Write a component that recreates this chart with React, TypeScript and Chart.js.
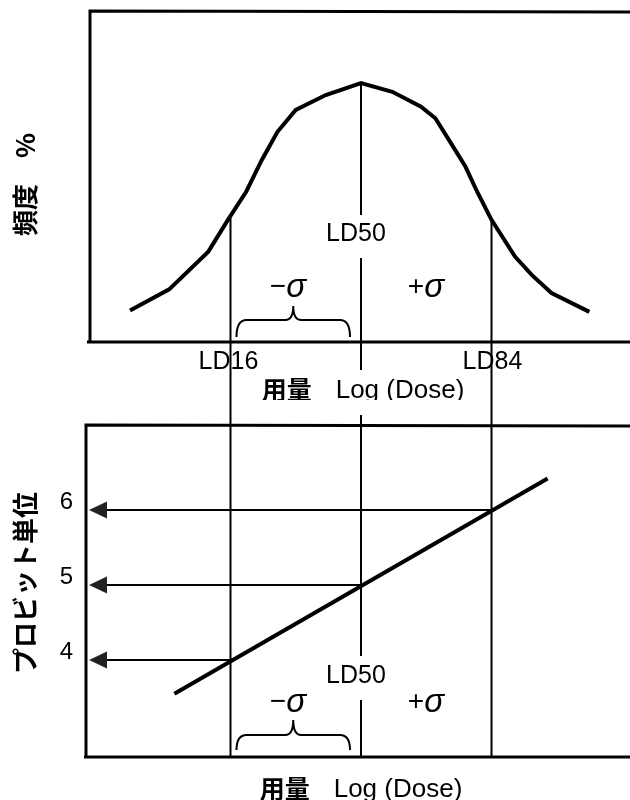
import React, { useEffect, useRef } from "react";
import { Chart, registerables } from "chart.js";

Chart.register(...registerables);

// Upper panel: frequency (%) against log dose, dose in σ units (0 = LD50)
const distDose = [-1.77, -1.47, -1.17, -1.02, -0.88, -0.76, -0.64, -0.5, -0.27, 0, 0.24, 0.46, 0.57, 0.69, 0.8, 0.89, 1.0, 1.18, 1.31, 1.46, 1.75];
const distFreq = [9.5, 15.9, 27.3, 36.9, 45.4, 55.0, 63.5, 70.1, 74.6, 78.2, 75.6, 71.1, 67.6, 60.0, 53.0, 45.4, 36.9, 25.8, 20.2, 14.8, 9.1];

// Lower panel: probit line against log dose
const probitDose = [-1.43, 1.43];
const probitValue = [3.55, 6.42];

// Reference doses and the probit value read at each of them
const ldLabels = ["LD16", "LD50", "LD84"];
const ldDose = [-1, 0, 1];
const probitTicks = [4, 5, 6];

const sigmaLabels = ["\u2212", "+"];
const sigmaSymbol = "\u03c3";
const doseTitle = ["用量", "Log (Dose)"];
const freqTitle = "頻度\u3000%";
const probitTitle = "プロビット単位";

const W = 630;
const H = 400;
const PX_PER_SIGMA = 130.5;
const LD50_PX = 361;

const LATIN = '"Liberation Sans", Arial, sans-serif';
const CJK = '"Noto Sans CJK JP", "Noto Sans CJK SC", sans-serif';

function interp(xs: number[], ys: number[], v: number) {
  for (let i = 1; i < xs.length; i++) {
    if (v <= xs[i]) {
      const t = (v - xs[i - 1]) / (xs[i] - xs[i - 1]);
      return ys[i - 1] + t * (ys[i] - ys[i - 1]);
    }
  }
  return ys[ys.length - 1];
}

function vline(ctx: CanvasRenderingContext2D, x: number, y0: number, y1: number) {
  ctx.beginPath();
  ctx.moveTo(x, y0);
  ctx.lineTo(x, y1);
  ctx.stroke();
}

function drawBrace(ctx: CanvasRenderingContext2D, x0: number, x1: number, yEnd: number, yMid: number, yTip: number) {
  const xm = (x0 + x1) / 2;
  ctx.beginPath();
  ctx.moveTo(x0, yEnd);
  ctx.quadraticCurveTo(x0, yMid, x0 + 10, yMid);
  ctx.lineTo(xm - 8, yMid);
  ctx.quadraticCurveTo(xm, yMid, xm, yTip);
  ctx.moveTo(xm, yTip);
  ctx.quadraticCurveTo(xm, yMid, xm + 8, yMid);
  ctx.lineTo(x1 - 10, yMid);
  ctx.quadraticCurveTo(x1, yMid, x1, yEnd);
  ctx.stroke();
}

function drawDoseTitle(ctx: CanvasRenderingContext2D, cx: number, baseline: number) {
  ctx.font = `bold 25px ${CJK}`;
  const w1 = ctx.measureText(doseTitle[0]).width;
  ctx.font = `26px ${LATIN}`;
  const w2 = ctx.measureText(doseTitle[1]).width;
  const gap = 24;
  const start = cx - (w1 + gap + w2) / 2;
  ctx.textAlign = "left";
  ctx.textBaseline = "alphabetic";
  ctx.font = `bold 25px ${CJK}`;
  ctx.fillText(doseTitle[0], start, baseline + 1);
  ctx.font = `26px ${LATIN}`;
  ctx.fillText(doseTitle[1], start + w1 + gap, baseline);
}

function drawVTitle(ctx: CanvasRenderingContext2D, text: string, cx: number, cy: number) {
  ctx.save();
  ctx.translate(cx, cy);
  ctx.rotate(-Math.PI / 2);
  ctx.font = `bold 26px ${CJK}`;
  ctx.textAlign = "center";
  ctx.textBaseline = "middle";
  ctx.fillText(text, 0, 0);
  ctx.restore();
}

// "−σ" and "+σ": upright sign followed by a slanted sigma
function drawSigmaPart(ctx: CanvasRenderingContext2D, ld50x: number, axisY: number) {
  const base = axisY - 45;
  const centers = [ld50x - 73, ld50x + 65];
  ctx.textBaseline = "alphabetic";
  sigmaLabels.forEach((sign, i) => {
    ctx.font = `28px ${LATIN}`;
    const ws = ctx.measureText(sign).width;
    ctx.font = `italic 33px ${LATIN}`;
    const wg = ctx.measureText(sigmaSymbol).width;
    const start = centers[i] - (ws + wg) / 2;
    ctx.textAlign = "left";
    ctx.font = `28px ${LATIN}`;
    ctx.fillText(sign, start, base - 2);
    ctx.font = `italic 33px ${LATIN}`;
    ctx.fillText(sigmaSymbol, start + ws, base);
  });
}

const frequencyDecor = {
  id: "frequencyDecor",
  afterDatasetsDraw(chart: Chart) {
    const { ctx, chartArea: a } = chart;
    const x = chart.scales.x;
    const y = chart.scales.y;
    const xs = ldDose.map((d) => x.getPixelForValue(d));
    ctx.save();
    ctx.fillStyle = "#000";
    ctx.strokeStyle = "#000";

    // frame: top, left and baseline; the right side runs off the canvas
    ctx.lineWidth = 3;
    ctx.beginPath();
    ctx.moveTo(W, a.top + 1);
    ctx.lineTo(a.left, a.top);
    ctx.lineTo(a.left, a.bottom);
    ctx.moveTo(a.left - 3, a.bottom);
    ctx.lineTo(W, a.bottom);
    ctx.stroke();

    // labels
    const ld50Base = a.bottom - 101;
    ctx.font = `25px ${LATIN}`;
    ctx.textAlign = "center";
    ctx.textBaseline = "alphabetic";
    ctx.fillText(ldLabels[1], xs[1] - 5, ld50Base);
    ctx.fillText(ldLabels[0], xs[0] - 2, a.bottom + 27);
    ctx.fillText(ldLabels[2], xs[2] + 1, a.bottom + 27);
    drawSigmaPart(ctx, xs[1], a.bottom);
    drawDoseTitle(ctx, xs[1] + 2, a.bottom + 56);
    drawVTitle(ctx, freqTitle, 25, (a.top + a.bottom) / 2 + 8);

    // dose markers
    ctx.lineWidth = 2;
    [0, 2].forEach((i) => {
      vline(ctx, xs[i], y.getPixelForValue(interp(distDose, distFreq, ldDose[i])) + 2, H);
    });
    vline(ctx, xs[1], y.getPixelForValue(interp(distDose, distFreq, ldDose[1])), ld50Base - 26);
    vline(ctx, xs[1], ld50Base + 17, a.bottom + 28);

    drawBrace(ctx, xs[0] + 6, xs[1] - 11, a.bottom - 5, a.bottom - 22, a.bottom - 36);
    ctx.restore();
  },
};

const probitDecor = {
  id: "probitDecor",
  afterDatasetsDraw(chart: Chart) {
    const { ctx, chartArea: a } = chart;
    const x = chart.scales.x;
    const y = chart.scales.y;
    const xs = ldDose.map((d) => x.getPixelForValue(d));
    ctx.save();
    ctx.fillStyle = "#000";
    ctx.strokeStyle = "#000";

    ctx.lineWidth = 3;
    ctx.beginPath();
    ctx.moveTo(W, a.top + 1);
    ctx.lineTo(a.left, a.top);
    ctx.lineTo(a.left, a.bottom);
    ctx.moveTo(a.left - 2, a.bottom);
    ctx.lineTo(W, a.bottom);
    ctx.stroke();

    const ld50Base = a.bottom - 74;
    ctx.font = `25px ${LATIN}`;
    ctx.textAlign = "center";
    ctx.textBaseline = "alphabetic";
    ctx.fillText(ldLabels[1], xs[1] - 5, ld50Base);
    drawSigmaPart(ctx, xs[1], a.bottom);
    drawDoseTitle(ctx, xs[1], a.bottom + 40);
    drawVTitle(ctx, probitTitle, 25, (a.top + a.bottom) / 2 - 8);

    // probit tick labels sit on the arrow lines
    ctx.font = `24px ${LATIN}`;
    ctx.textAlign = "right";
    probitTicks.forEach((v) => ctx.fillText(String(v), a.left - 13, y.getPixelForValue(v) - 1));

    ctx.lineWidth = 2;
    [0, 2].forEach((i) => vline(ctx, xs[i], 0, a.bottom));
    vline(ctx, xs[1], a.top - 10, ld50Base - 27);
    vline(ctx, xs[1], ld50Base + 17, a.bottom);

    // arrows from each dose marker back to the probit axis
    probitTicks.forEach((v, i) => {
      const yv = y.getPixelForValue(v);
      ctx.lineWidth = 2;
      ctx.beginPath();
      ctx.moveTo(xs[i], yv);
      ctx.lineTo(a.left + 18, yv);
      ctx.stroke();
      ctx.fillStyle = "#222";
      ctx.beginPath();
      ctx.moveTo(a.left + 3, yv);
      ctx.lineTo(a.left + 21, yv - 8.5);
      ctx.lineTo(a.left + 21, yv + 8.5);
      ctx.closePath();
      ctx.fill();
      ctx.fillStyle = "#000";
    });

    drawBrace(ctx, xs[0] + 6, xs[1] - 11, a.bottom - 7, a.bottom - 22, a.bottom - 37);
    ctx.restore();
  },
};

function baseOptions(left: number, top: number, bottom: number, yMin: number, yMax: number) {
  return {
    responsive: false,
    maintainAspectRatio: false,
    animation: false as const,
    devicePixelRatio: 1,
    events: [],
    layout: { padding: { left, top, right: 0, bottom: H - bottom } },
    plugins: { legend: { display: false }, tooltip: { enabled: false } },
    scales: {
      x: {
        type: "linear" as const,
        min: (left - LD50_PX) / PX_PER_SIGMA,
        max: (W - LD50_PX) / PX_PER_SIGMA,
        display: false,
      },
      y: { type: "linear" as const, min: yMin, max: yMax, display: false },
    },
  };
}

export default function App() {
  const topRef = useRef<HTMLCanvasElement>(null);
  const bottomRef = useRef<HTMLCanvasElement>(null);

  useEffect(() => {
    const top = new Chart(topRef.current!, {
      type: "line",
      data: {
        datasets: [
          {
            data: distDose.map((d, i) => ({ x: d, y: distFreq[i] })),
            borderColor: "#000",
            borderWidth: 4,
            pointRadius: 0,
            tension: 0,
            fill: false,
          },
        ],
      },
      options: baseOptions(90, 11, 342, 0, 100) as any,
      plugins: [frequencyDecor],
    });
    const bottom = new Chart(bottomRef.current!, {
      type: "line",
      data: {
        datasets: [
          {
            data: probitDose.map((d, i) => ({ x: d, y: probitValue[i] })),
            borderColor: "#000",
            borderWidth: 4,
            pointRadius: 0,
            tension: 0,
            fill: false,
          },
        ],
      },
      options: baseOptions(86, 25, 357, 5 - 172 / 75, 5 + 160 / 75) as any,
      plugins: [probitDecor],
    });
    return () => {
      top.destroy();
      bottom.destroy();
    };
  }, []);

  return (
    <div style={{ position: "absolute", left: 0, top: 0, width: W, height: 2 * H, background: "#fff" }}>
      <canvas ref={topRef} width={W} height={H} style={{ display: "block", width: W, height: H }} />
      <canvas ref={bottomRef} width={W} height={H} style={{ display: "block", width: W, height: H }} />
    </div>
  );
}
